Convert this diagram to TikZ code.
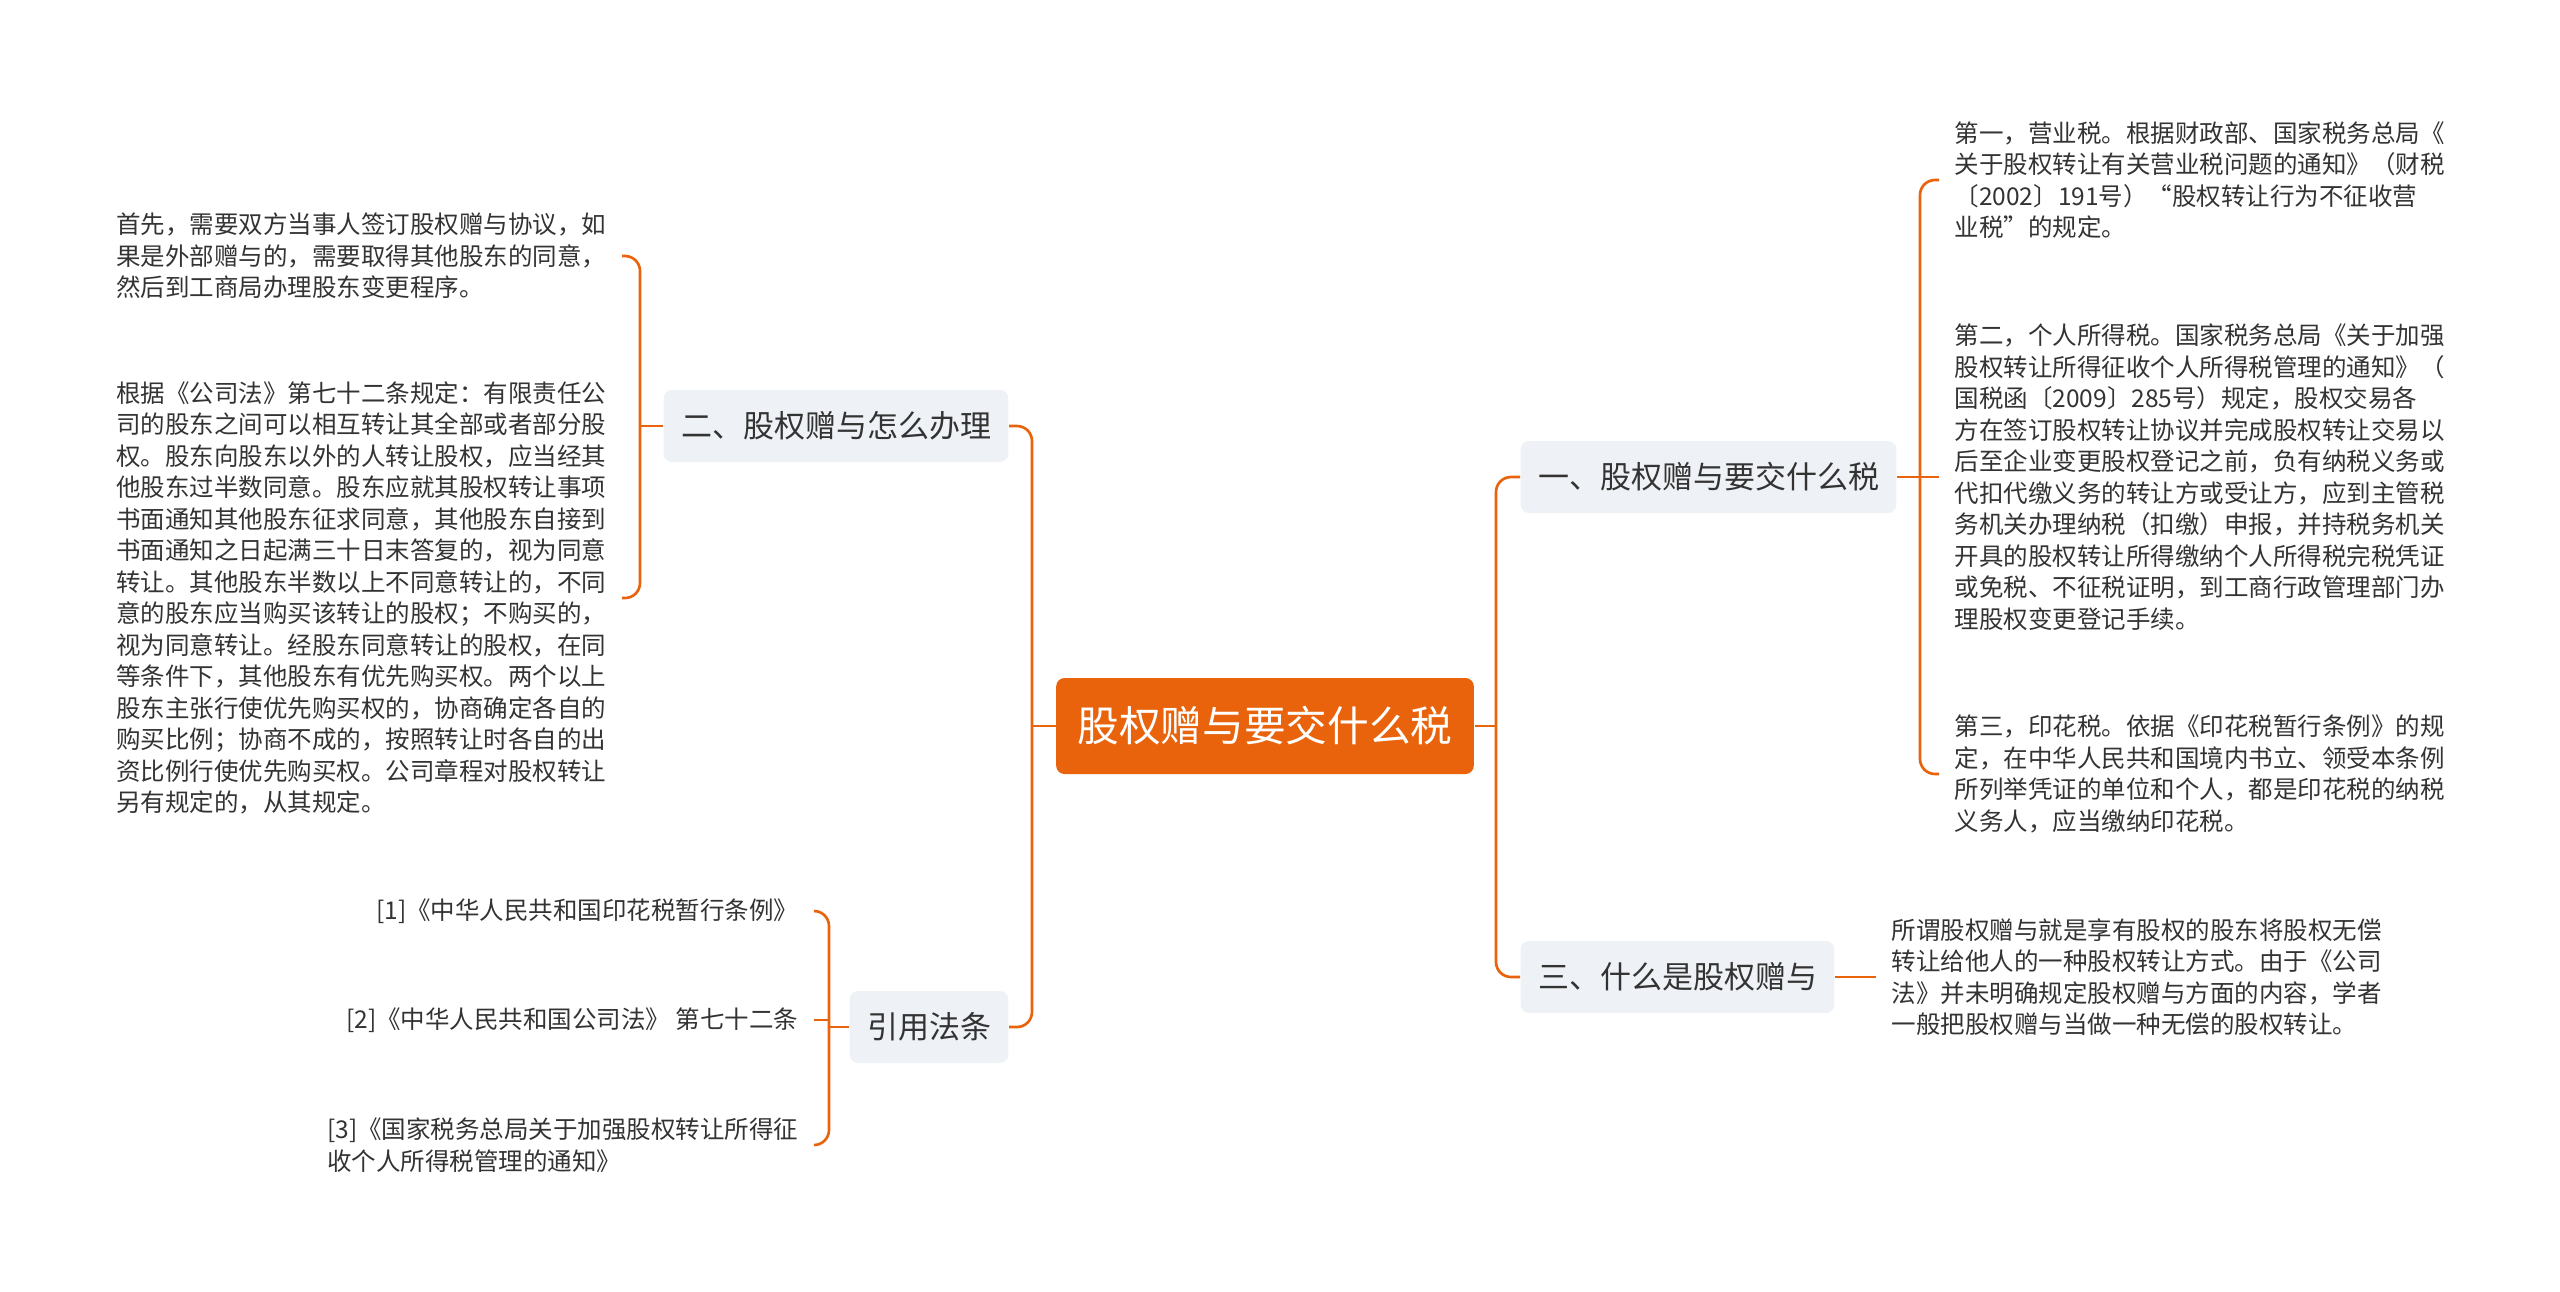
\documentclass[tikz,border=0pt]{standalone}
\usepackage{fontspec}
\setmainfont{Noto Sans CJK SC}
\definecolor{mapline}{HTML}{E8630C}
\definecolor{rootfill}{HTML}{E8630C}
\definecolor{topicfill}{HTML}{EEF1F5}
\definecolor{textgrey}{HTML}{333333}
\begin{document}
\begin{tikzpicture}[
      x=0.3pt, y=0.3pt,
      every node/.style={text=textgrey},
      root/.style={fill=rootfill, rounded corners=2.5pt, text=white,
                   font=\fontsize{12.5}{14}\selectfont, inner xsep=6.4pt,
                   minimum height=28.8pt},
      topic/.style={fill=topicfill, rounded corners=2.5pt,
                    font=\fontsize{9.3}{11}\selectfont, inner xsep=5.2pt,
                    minimum height=21.6pt},
      leaf/.style={align=left, inner xsep=4.5pt, inner ysep=0pt,
                   font=\fontsize{7.35}{9.45}\selectfont},
      link/.style={draw=mapline, line width=0.8pt},
      elbow/.style={link, rounded corners=4.5pt},
    ]
    \useasboundingbox (0,0) rectangle (2560,-1291);

    % --- centre ---
    \node[root] (root) at (1265,-726) {股权赠与要交什么税};
    \coordinate (rj) at (1496,-726);
    \coordinate (lj) at (1032,-726);

    % --- RIGHT: topics ---
    \node[topic, anchor=west] (tax) at (1520,-477) {一、股权赠与要交什么税};
    \node[topic, anchor=west] (what) at (1520,-977) {三、什么是股权赠与};
    \draw[link] (root.east) -- (rj);
    \draw[elbow] (rj) |- (tax.west);
    \draw[elbow] (rj) |- (what.west);

    % kinds of tax
    \node[leaf, anchor=west] (tax1) at (1939,-180)
      {第一，营业税。根据财政部、国家税务总局《\\关于股权转让有关营业税问题的通知》（财税\\〔2002〕191号）“股权转让行为不征收营\\业税”的规定。};
    \node[leaf, anchor=west] (tax2) at (1939,-477)
      {第二，个人所得税。国家税务总局《关于加强\\股权转让所得征收个人所得税管理的通知》（\\国税函〔2009〕285号）规定，股权交易各\\方在签订股权转让协议并完成股权转让交易以\\后至企业变更股权登记之前，负有纳税义务或\\代扣代缴义务的转让方或受让方，应到主管税\\务机关办理纳税（扣缴）申报，并持税务机关\\开具的股权转让所得缴纳个人所得税完税凭证\\或免税、不征税证明，到工商行政管理部门办\\理股权变更登记手续。};
    \node[leaf, anchor=west] (tax3) at (1939,-774)
      {第三，印花税。依据《印花税暂行条例》的规\\定，在中华人民共和国境内书立、领受本条例\\所列举凭证的单位和个人，都是印花税的纳税\\义务人，应当缴纳印花税。};
    \coordinate (taxj) at (1920,-477);
    \draw[link] (tax.east) -- (tax2.west);
    \draw[elbow] (taxj) |- (tax1.west);
    \draw[elbow] (taxj) |- (tax3.west);

    % definition
    \node[leaf, anchor=west] (whatdef) at (1876,-977)
      {所谓股权赠与就是享有股权的股东将股权无偿\\转让给他人的一种股权转让方式。由于《公司\\法》并未明确规定股权赠与方面的内容，学者\\一般把股权赠与当做一种无偿的股权转让。};
    \draw[link] (what.east) -- (whatdef.west);

    % --- LEFT: topics ---
    \node[topic, anchor=east] (how) at (1009,-426) {二、股权赠与怎么办理};
    \node[topic, anchor=east] (law) at (1009,-1027) {引用法条};
    \draw[link] (root.west) -- (lj);
    \draw[elbow] (lj) |- (how.east);
    \draw[elbow] (lj) |- (law.east);

    % procedure
    \node[leaf, anchor=east] (how1) at (622,-256)
      {首先，需要双方当事人签订股权赠与协议，如\\果是外部赠与的，需要取得其他股东的同意，\\然后到工商局办理股东变更程序。};
    \node[leaf, anchor=east] (how2) at (622,-598)
      {根据《公司法》第七十二条规定：有限责任公\\司的股东之间可以相互转让其全部或者部分股\\权。股东向股东以外的人转让股权，应当经其\\他股东过半数同意。股东应就其股权转让事项\\书面通知其他股东征求同意，其他股东自接到\\书面通知之日起满三十日末答复的，视为同意\\转让。其他股东半数以上不同意转让的，不同\\意的股东应当购买该转让的股权；不购买的，\\视为同意转让。经股东同意转让的股权，在同\\等条件下，其他股东有优先购买权。两个以上\\股东主张行使优先购买权的，协商确定各自的\\购买比例；协商不成的，按照转让时各自的出\\资比例行使优先购买权。公司章程对股权转让\\另有规定的，从其规定。};
    \coordinate (howj) at (640,-426);
    \draw[link] (how.west) -- (howj);
    \draw[elbow] (howj) |- (how1.east);
    \draw[elbow] (howj) |- (how2.east);

    % references
    \node[leaf, anchor=east] (ref1) at (814,-911) {[1]《中华人民共和国印花税暂行条例》};
    \node[leaf, anchor=east] (ref2) at (814,-1020) {[2]《中华人民共和国公司法》 第七十二条};
    \node[leaf, anchor=east] (ref3) at (814,-1145)
      {[3]《国家税务总局关于加强股权转让所得征\\收个人所得税管理的通知》};
    \coordinate (lawj) at (829,-1027);
    \draw[link] (law.west) -- (lawj);
    \draw[link] (ref2.east) -- (ref2.east -| lawj);
    \draw[elbow] (lawj) |- (ref1.east);
    \draw[elbow] (lawj) |- (ref3.east);
  \end{tikzpicture}
\end{document}
